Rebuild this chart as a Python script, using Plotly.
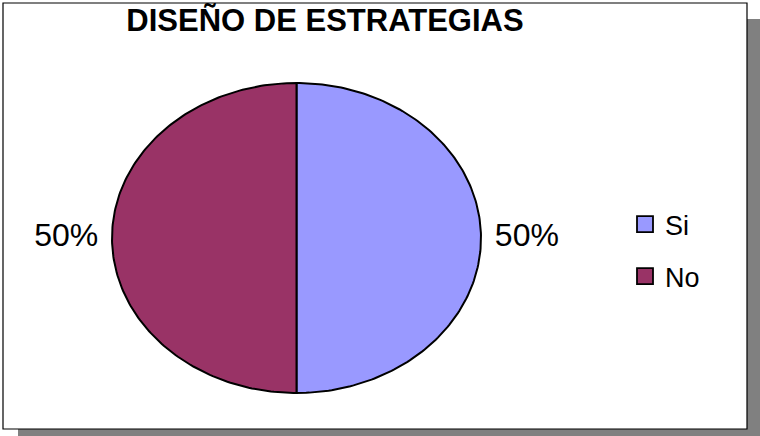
import numpy as np
import plotly.graph_objects as go

# Survey answers for "Diseño de estrategias"
categories = ["Si", "No"]
values = [50, 50]
colors = ["#9999FF", "#993366"]

W, H = 760, 436
title_text = "DISEÑO DE ESTRATEGIAS"

# Pixel box the elliptical pie occupies
pie_left, pie_right = 112, 481
pie_top, pie_bottom = 83, 393
pad = 1.12  # axis range margin: keeps the outline and the labels inside

cx = (pie_left + pie_right) / 2
cy = (pie_top + pie_bottom) / 2
hw = (pie_right - pie_left) / 2 * pad
hh = (pie_bottom - pie_top) / 2 * pad

fig = go.Figure()

total = sum(values)
start = 90.0  # first slice starts at 12 o'clock, running clockwise
label_x, label_y, label_txt, label_pos = [], [], [], []
for name, v, col in zip(categories, values, colors):
    sweep = v / total * 360.0
    ang = np.radians(np.linspace(start, start - sweep, 181))
    xs = np.concatenate([[0.0], np.cos(ang), [0.0]])
    ys = np.concatenate([[0.0], np.sin(ang), [0.0]])
    fig.add_trace(go.Scatter(
        x=xs, y=ys, mode="lines", fill="toself", fillcolor=col,
        line=dict(color="black", width=2), showlegend=False, hoverinfo="skip",
    ))
    mid = np.radians(start - sweep / 2)
    mx, my = np.cos(mid), np.sin(mid)
    label_x.append(mx * 1.075)
    label_y.append(my * 1.075)
    label_txt.append(f"{v / total:.0%}")
    label_pos.append("middle right" if mx >= 0 else "middle left")
    start -= sweep

# Percentage labels outside each slice
fig.add_trace(go.Scatter(
    x=label_x, y=label_y, mode="text", text=label_txt, textposition=label_pos,
    textfont=dict(family="Liberation Sans", size=32, color="black"),
    cliponaxis=False, showlegend=False, hoverinfo="skip",
))

# Legend entries
for i, (name, col) in enumerate(zip(categories, colors)):
    fig.add_trace(go.Scatter(
        x=[None], y=[None], mode="markers", name=name, legendgroup=name,
        marker=dict(symbol="square", size=16, color=col,
                    line=dict(color="black", width=1.8)),
    ))

# Chart frame with drop shadow
shapes = [
    dict(type="rect", xref="paper", yref="paper", layer="below",
         x0=18 / W, x1=1.0, y0=0.0, y1=1 - 19 / H,
         fillcolor="#808080", line=dict(width=0)),
    dict(type="rect", xref="paper", yref="paper", layer="below",
         x0=3 / W, x1=747 / W, y0=1 - 429 / H, y1=1 - 3 / H,
         fillcolor="white", line=dict(color="black", width=1.2)),
]

fig.update_layout(
    width=W, height=H,
    margin=dict(l=0, r=0, t=0, b=0),
    paper_bgcolor="white", plot_bgcolor="rgba(0,0,0,0)",
    shapes=shapes,
    title=dict(text=title_text, x=325 / W, xanchor="center", xref="paper",
               y=1 - 20 / H, yref="container", yanchor="middle",
               font=dict(family="Liberation Sans", size=31, color="black",
                         weight="bold")),
    xaxis=dict(range=[-pad, pad], domain=[(cx - hw) / W, (cx + hw) / W],
               visible=False, fixedrange=True),
    yaxis=dict(range=[-pad, pad], domain=[1 - (cy + hh) / H, 1 - (cy - hh) / H],
               visible=False, fixedrange=True),
    legend=dict(x=625 / W, xanchor="left", y=1 - 200 / H, yanchor="top",
                font=dict(family="Liberation Sans", size=27, color="black"),
                bgcolor="rgba(0,0,0,0)", tracegroupgap=14,
                traceorder="grouped", itemclick=False, itemdoubleclick=False),
    showlegend=True,
)

fig.write_html("out.html")
